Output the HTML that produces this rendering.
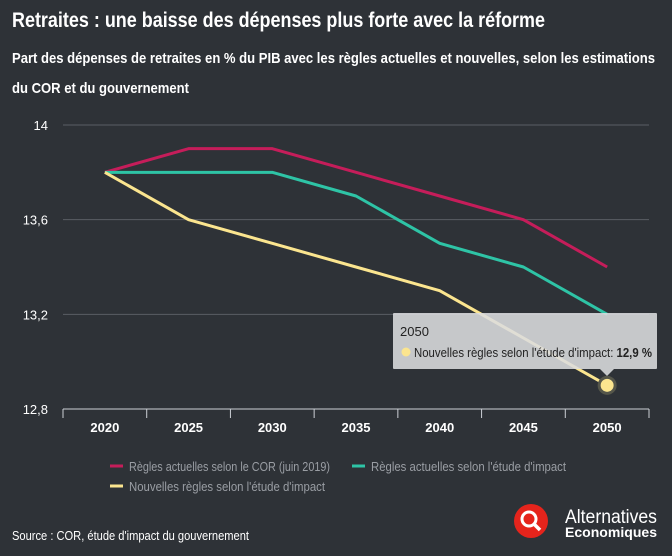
<!DOCTYPE html>
<html><head><meta charset="utf-8"><style>
body{margin:0;background:#2e3237;}
svg{display:block;font-family:"Liberation Sans Narrow","Liberation Sans",sans-serif;}
</style></head><body>
<svg width="672" height="556" viewBox="0 0 672 556">
<rect width="672" height="556" fill="#2e3237"/>
<text x="12" y="27" fill="#fff" font-size="21" font-weight="bold" textLength="533" lengthAdjust="spacingAndGlyphs">Retraites : une baisse des dépenses plus forte avec la réforme</text>
<text x="12" y="63" fill="#fff" font-size="15" font-weight="bold" textLength="643" lengthAdjust="spacingAndGlyphs">Part des dépenses de retraites en % du PIB avec les règles actuelles et nouvelles, selon les estimations</text>
<text x="12" y="93" fill="#fff" font-size="15" font-weight="bold" textLength="177" lengthAdjust="spacingAndGlyphs">du COR et du gouvernement</text>
<g id="grid"></g><g id="axes"></g><g id="series"></g>
<g>
<rect x="393" y="313" width="264" height="56" fill="#dcdddf" fill-opacity="0.88" rx="1"/>
<path d="M600 369 L607 376 L614 369Z" fill="#dcdddf" fill-opacity="0.88"/>
<text x="400" y="336" fill="#222" font-size="13">2050</text>
<circle cx="406" cy="352" r="4.5" fill="#fbe58f"/>
<text x="414" y="357" fill="#222" font-size="13" textLength="238" lengthAdjust="spacingAndGlyphs">Nouvelles règles selon l'étude d'impact: <tspan font-weight="bold">12,9 %</tspan></text>
</g>
<g>
<line x1="110" y1="466" x2="123" y2="466" stroke="#c51d5a" stroke-width="3"/>
<text x="129" y="471" fill="#9a9ea4" font-size="13" textLength="201" lengthAdjust="spacingAndGlyphs">Règles actuelles selon le COR (juin 2019)</text>
<line x1="352" y1="466" x2="365" y2="466" stroke="#2ec4a6" stroke-width="3"/>
<text x="371" y="471" fill="#9a9ea4" font-size="13" textLength="195" lengthAdjust="spacingAndGlyphs">Règles actuelles selon l'étude d'impact</text>
<line x1="110" y1="486" x2="123" y2="486" stroke="#fbe58f" stroke-width="3"/>
<text x="129" y="491" fill="#9a9ea4" font-size="13" textLength="196" lengthAdjust="spacingAndGlyphs">Nouvelles règles selon l'étude d'impact</text>
</g>
<text x="12" y="540" fill="#fff" font-size="13" textLength="237" lengthAdjust="spacingAndGlyphs">Source : COR, étude d'impact du gouvernement</text>
<g>
<circle cx="531" cy="521" r="17" fill="#e5241c"/>
<circle cx="529" cy="519" r="7" fill="none" stroke="#fff" stroke-width="3"/>
<line x1="534" y1="524" x2="540" y2="530" stroke="#fff" stroke-width="3.5"/>
<text x="565" y="523" fill="#fff" font-size="19" textLength="92" lengthAdjust="spacingAndGlyphs">Alternatives</text>
<text x="565" y="537" fill="#fff" font-size="14" font-weight="bold" textLength="92" lengthAdjust="spacingAndGlyphs">Economiques</text>
</g>
</svg>
<script>
const categories=["2020","2025","2030","2035","2040","2045","2050"];
const corValues=[13.8,13.9,13.9,13.8,13.7,13.6,13.4];
const actuellesImpact=[13.8,13.8,13.8,13.7,13.5,13.4,13.2];
const nouvellesImpact=[13.8,13.6,13.5,13.4,13.3,13.1,12.9];
const yTicks=[12.8,13.2,13.6,14];
const yTickLabels=["12,8","13,2","13,6","14"];
const NS="http://www.w3.org/2000/svg";
const x0=63,x1=649,yTop=125,yBot=409,yMin=12.8,yMax=14;
const band=(x1-x0)/categories.length;
function xs(i){return x0+band*(i+0.5);}
function ys(v){return yBot-(v-yMin)/(yMax-yMin)*(yBot-yTop);}
function mk(tag,attrs,parent){const e=document.createElementNS(NS,tag);for(const k in attrs)e.setAttribute(k,attrs[k]);parent.appendChild(e);return e;}
const grid=document.getElementById('grid'),axes=document.getElementById('axes'),ser=document.getElementById('series');
yTicks.forEach((t,i)=>{
 const l=mk('line',{x1:x0,x2:x1,y1:ys(t),y2:ys(t),stroke:'#5a5e64','stroke-width':1},grid);
 
 
 const tx=mk('text',{x:48,y:ys(t)+5,fill:'#fff','font-size':13,'text-anchor':'end'},axes);
 tx.textContent=yTickLabels[i];
 
 
});
const ax=mk('line',{x1:x0,x2:x1,y1:yBot,y2:yBot,stroke:'#ccd0d6','stroke-width':1},axes);


for(let i=0;i<=categories.length;i++){
 const tk=mk('line',{x1:x0+band*i,x2:x0+band*i,y1:yBot,y2:yBot+9,stroke:'#ccd0d6','stroke-width':1},axes);
 
 
}
categories.forEach((c,i)=>{
 const tx=mk('text',{x:xs(i),y:432,fill:'#fff','font-size':13,'font-weight':'bold','text-anchor':'middle'},axes);
 tx.textContent=c;
 
 
});
function line(vals,color,name){
 const d=vals.map((v,i)=>(i?'L':'M')+xs(i)+' '+ys(v)).join(' ');
 const p=mk('path',{d:d,fill:'none',stroke:color,'stroke-width':3,'stroke-linejoin':'round'},ser);
 
 
}
line(corValues,'#c51d5a','series-cor');
line(actuellesImpact,'#2ec4a6','series-actuelles-impact');
line(nouvellesImpact,'#fbe58f','series-nouvelles-impact');
const last=nouvellesImpact.length-1;
const hl=mk('circle',{cx:xs(last),cy:ys(nouvellesImpact[last]),r:8,fill:'#fbe58f',stroke:'#55564a','stroke-width':3},ser);


</script>
</body></html>
